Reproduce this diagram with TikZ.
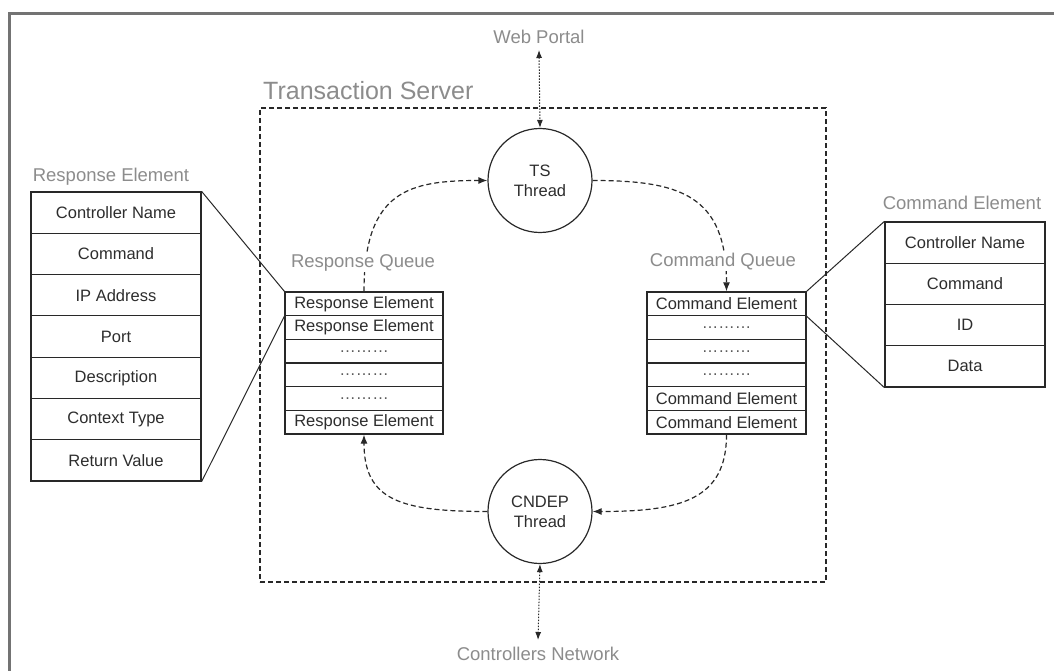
\documentclass[tikz,border=0pt]{standalone}
\usepackage{fontspec}
\setmainfont{Liberation Sans}
\usetikzlibrary{arrows.meta}
\definecolor{labelgray}{RGB}{140,140,140}
\definecolor{boxtext}{RGB}{45,45,45}
\definecolor{boxline}{RGB}{40,40,40}
\definecolor{framec}{RGB}{115,115,115}
\definecolor{dotgray}{RGB}{90,90,90}
\newcommand{\boxfont}{\fontsize{16.5}{20}\selectfont}
\newcommand{\lblfont}{\fontsize{18.5}{21}\selectfont}
\begin{document}
\begin{tikzpicture}[x=1pt,y=-1pt,
  lbl/.style={text=labelgray, font=\lblfont, inner sep=1pt},
  qcell/.style={draw=boxline, line width=1.2pt, minimum width=158pt, minimum height=23.67pt, inner sep=0pt, text=boxtext, font=\boxfont},
  lcell/.style={draw=boxline, line width=1.2pt, minimum width=170pt, minimum height=41.3pt, inner sep=0pt, text=boxtext, font=\boxfont},
  rcell/.style={draw=boxline, line width=1.2pt, minimum width=160pt, minimum height=41.25pt, inner sep=0pt, text=boxtext, font=\boxfont},
  thread/.style={circle, draw=boxline, line width=1.2pt, minimum size=104pt, inner sep=0pt, align=center, text=boxtext, font=\boxfont},
  flow/.style={draw=boxline, line width=1.2pt, dash pattern=on 5pt off 3pt, -{Latex[length=9pt,width=7pt]}},
  ext/.style={draw=boxline, line width=1pt, dash pattern=on 1.5pt off 1.5pt, {Latex[length=8pt,width=6pt]}-{Latex[length=8pt,width=6pt]}},
  zoomline/.style={draw=boxline, line width=1pt},
  dots/.style={text=dotgray}
]
\useasboundingbox (0,0) rectangle (1054,671);
% outer frame
\draw[framec, line width=3pt] (9,671) -- (9,14) -- (1054,14);

% transaction server
\node[draw=boxline, line width=1.2pt, dash pattern=on 5pt off 3pt, minimum width=566pt, minimum height=474pt, inner sep=0pt] (srv) at (543,345) {};
\node[text=labelgray, font=\fontsize{25}{28}\selectfont, anchor=west, inner sep=0pt] (srvl) at (263,91) {Transaction Server};

% threads
\node[thread] (ts) at (540,180.5) {TS\\Thread};
\node[thread] (cndep) at (540,511.5) {CNDEP\\Thread};

% response queue
\node[qcell] (rq1) at (364,303.8) {Response Element};
\node[qcell] (rq2) at (364,327.5) {Response Element};
\node[qcell] (rq3) at (364,351.2) {\textcolor{dotgray}{………}};
\node[qcell] (rq4) at (364,374.8) {\textcolor{dotgray}{………}};
\node[qcell] (rq5) at (364,398.5) {\textcolor{dotgray}{………}};
\node[qcell] (rq6) at (364,422.2) {Response Element};

% command queue
\node[qcell, minimum width=159pt] (cq1) at (726.5,303.8) {Command Element};
\node[qcell, minimum width=159pt] (cq2) at (726.5,327.5) {\textcolor{dotgray}{………}};
\node[qcell, minimum width=159pt] (cq3) at (726.5,351.2) {\textcolor{dotgray}{………}};
\node[qcell, minimum width=159pt] (cq4) at (726.5,374.8) {\textcolor{dotgray}{………}};
\node[qcell, minimum width=159pt] (cq5) at (726.5,398.5) {Command Element};
\node[qcell, minimum width=159pt] (cq6) at (726.5,422.2) {Command Element};

% flows
\draw[flow] (rq1.north) .. controls (364,190) and (410,180.5) .. (ts.west);
\draw[flow] (ts.east) .. controls (680,180.5) and (726.5,195) .. (cq1.north);
\draw[flow] (cq6.south) .. controls (726.5,500) and (680,511.5) .. (cndep.east);
\draw[flow] (cndep.west) .. controls (400,511.5) and (364,500) .. (rq6.south);

% queue labels (on top of the flows)
\node[lbl, fill=white] (rql) at (363,263) {Response Queue};
\node[lbl, fill=white] (cql) at (723,262) {Command Queue};

% external links
\node[lbl] (wp) at (539,37) {Web Portal};
\node[lbl] (cn) at (538,654) {Controllers Network};
\draw[ext] ([yshift=-5pt]wp.south) -- (ts.north);
\draw[ext] (cndep.south) -- ([yshift=6pt]cn.north);

% response element detail
\node[lbl] (rel) at (111,177) {Response Element};
\node[lcell] (re1) at (116,212.6) {Controller Name};
\node[lcell] (re2) at (116,253.9) {Command};
\node[lcell] (re3) at (116,295.2) {IP Address};
\node[lcell] (re4) at (116,336.5) {Port};
\node[lcell] (re5) at (116,377.8) {Description};
\node[lcell] (re6) at (116,419.1) {Context Type};
\node[lcell] (re7) at (116,460.4) {Return Value};
\draw[zoomline] (re1.north east) -- (rq1.north west);
\draw[zoomline] (re7.south east) -- (rq1.south west);

% command element detail
\node[lbl] (cel) at (962,203) {Command Element};
\node[rcell] (ce1) at (965,242.6) {Controller Name};
\node[rcell] (ce2) at (965,283.9) {Command};
\node[rcell] (ce3) at (965,325.1) {ID};
\node[rcell] (ce4) at (965,366.4) {Data};
\draw[zoomline] (ce1.north west) -- (cq1.north east);
\draw[zoomline] (ce4.south west) -- (cq1.south east);
\end{tikzpicture}
\end{document}
